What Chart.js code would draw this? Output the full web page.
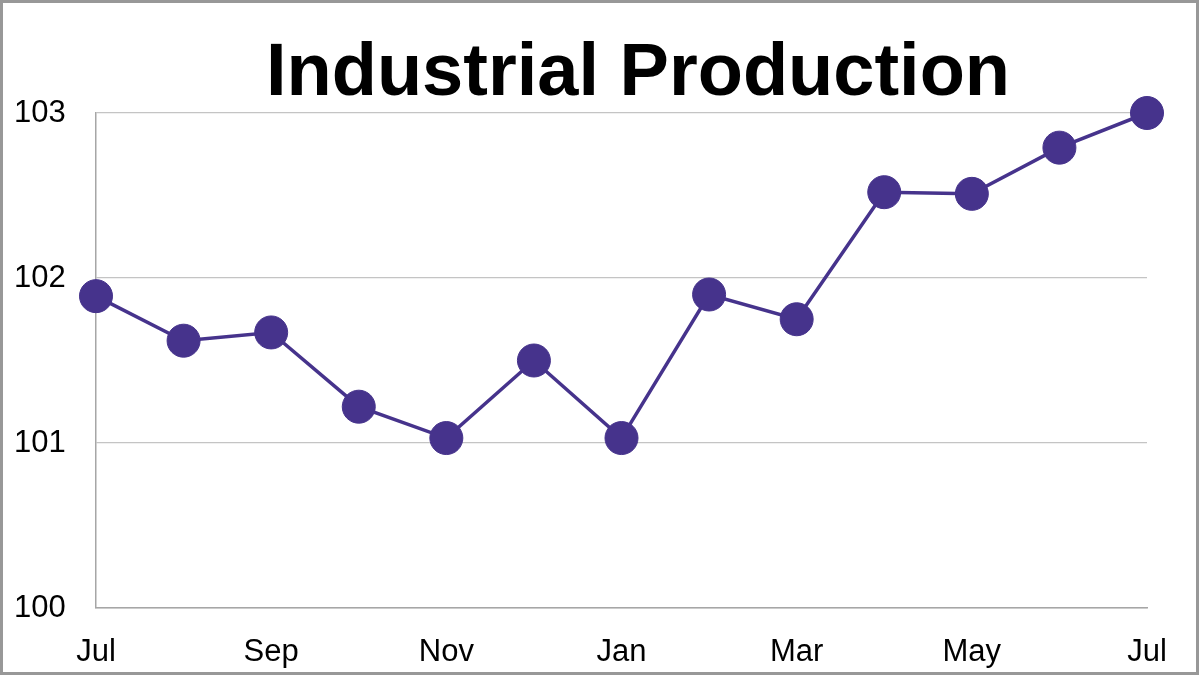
<!DOCTYPE html>
<html>
<head>
<meta charset="utf-8">
<script src="https://cdn.jsdelivr.net/npm/chart.js@4"></script>
<style>
  html, body { margin: 0; padding: 0; background: #fff; }
  #wrap { width: 1200px; height: 675px; position: relative; }
</style>
</head>
<body>
<div id="wrap"><canvas id="c" width="1200" height="675"></canvas></div>
<script>
const titleText = "Industrial Production";
const months = ["Jul", "Aug", "Sep", "Oct", "Nov", "Dec", "Jan", "Feb", "Mar", "Apr", "May", "Jun", "Jul"];
const production = [101.89, 101.62, 101.67, 101.22, 101.03, 101.50, 101.03, 101.90, 101.75, 102.52, 102.51, 102.79, 103.00];
const yTicks = [100, 101, 102, 103];

const lineColor = "#46338C";
const fontFamily = '"Liberation Sans", Arial, Helvetica, sans-serif';

const framePlugin = {
  id: 'frame',
  beforeDraw(chart) {
    const ctx = chart.ctx;
    ctx.save();
    ctx.fillStyle = '#ffffff';
    ctx.fillRect(0, 0, chart.width, chart.height);
    ctx.restore();
  },
  afterDraw(chart) {
    const ctx = chart.ctx;
    ctx.save();
    ctx.strokeStyle = '#989898';
    ctx.lineWidth = 3;
    ctx.strokeRect(1.5, 1.5, chart.width - 4, chart.height - 3);
    ctx.fillStyle = '#000';
    ctx.font = 'bold 74px ' + fontFamily;
    ctx.textAlign = 'center';
    ctx.textBaseline = 'alphabetic';
    ctx.fillText(titleText, 638, 95);
    ctx.restore();
  }
};

new Chart(document.getElementById('c'), {
  type: 'line',
  data: {
    labels: months,
    datasets: [{
      data: production,
      borderColor: lineColor,
      backgroundColor: lineColor,
      borderWidth: 3.5,
      pointRadius: 16.5,
      pointHoverRadius: 16.5,
      pointBackgroundColor: lineColor,
      pointBorderColor: lineColor,
      pointBorderWidth: 1,
      tension: 0,
      clip: false
    }]
  },
  options: {
    responsive: false,
    animation: false,
    events: [],
    layout: { padding: { top: 113, left: 14, right: 53, bottom: 0 } },
    plugins: {
      legend: { display: false },
      title: { display: false },
      tooltip: { enabled: false }
    },
    scales: {
      x: {
        grid: { display: false, drawTicks: false },
        border: { display: true, color: '#A6A6A6', width: 1.5 },
        ticks: {
          autoSkip: false,
          maxRotation: 0,
          color: '#000',
          padding: 26,
          font: { family: fontFamily, size: 31 },
          callback: function(v, i) { return i % 2 === 0 ? months[i] : ''; }
        },
        afterFit(scale) { scale.height = 67; }
      },
      y: {
        min: 100,
        max: 103,
        afterBuildTicks(scale) { scale.ticks = yTicks.map(v => ({ value: v })); },
        grid: { color: '#C4C4C4', lineWidth: 1.2, drawTicks: false },
        border: { display: true, color: '#A6A6A6', width: 1.5 },
        ticks: {
          color: '#000',
          crossAlign: 'far',
          padding: 10,
          font: { family: fontFamily, size: 31 }
        },
        afterFit(scale) { scale.width = 82; }
      }
    }
  },
  plugins: [framePlugin]
});
</script>
</body>
</html>
